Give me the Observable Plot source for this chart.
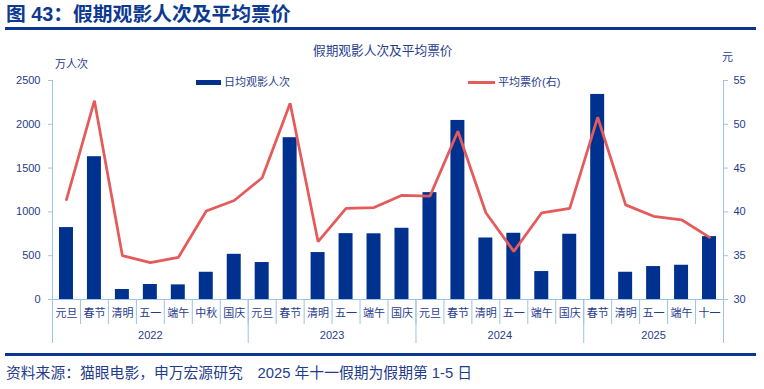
<!DOCTYPE html>
<html><head><meta charset="utf-8">
<script src="https://cdn.jsdelivr.net/npm/d3@7"></script>
<script src="https://cdn.jsdelivr.net/npm/@observablehq/plot@0.6"></script>
<style>
body{margin:0;background:#fff;}
#wrap{position:relative;width:764px;height:389px;overflow:hidden;font-family:"Liberation Sans","Noto Sans CJK SC",sans-serif;color:#1f3d8c;background:#fff;}
.abs{position:absolute;white-space:nowrap;line-height:1;}
#chart svg{display:block;}
</style></head><body>
<div id="wrap">
  <div id="chart" class="abs" style="left:0;top:0;"></div>
  <div class="abs" style="left:6px;top:5px;font-size:19.8px;font-weight:bold;color:#0d3990;">图 43：假期观影人次及平均票价</div>
  <div class="abs" style="left:5px;top:27px;width:751px;height:3px;background:#0a3593;"></div>
  <div class="abs" style="left:313px;top:44.5px;font-size:12.7px;">假期观影人次及平均票价</div>
  <div class="abs" style="left:55px;top:58.5px;font-size:11px;">万人次</div>
  <div class="abs" style="left:722px;top:52px;font-size:11px;">元</div>
  <div class="abs" style="left:196px;top:80px;width:25px;height:5px;background:#00318f;"></div>
  <div class="abs" style="left:224px;top:76.5px;font-size:11px;">日均观影人次</div>
  <div class="abs" style="left:468px;top:81px;width:27px;height:2.5px;background:#e55a5a;"></div>
  <div class="abs" style="left:498px;top:76.5px;font-size:11px;">平均票价(右)</div>
  <div class="abs" style="left:5px;top:353px;width:751px;height:3px;background:#0a3593;"></div>
  <div class="abs" style="left:6px;top:366px;font-size:14.8px;">资料来源：猫眼电影，申万宏源研究　2025 年十一假期为假期第 1-5 日</div>
</div>
<script>
// ---- data ----
const years = ["2022", "2023", "2024", "2025"];
const holidays2022 = ["元旦", "春节", "清明", "五一", "端午", "中秋", "国庆"];
const holidays2023 = ["元旦", "春节", "清明", "五一", "端午", "国庆"];
const holidays2024 = ["元旦", "春节", "清明", "五一", "端午", "国庆"];
const holidays2025 = ["春节", "清明", "五一", "端午", "十一"];
// 日均观影人次（万人次）
const dailyAdmissions = [821, 1630, 114, 171, 167, 311, 516,
                         422, 1847, 536, 752, 750, 813,
                         1220, 2044, 702, 756, 319, 745,
                         2341, 311, 376, 391, 718];
// 平均票价（元，右轴）
const avgPrice = [41.4, 52.7, 35.0, 34.2, 34.8, 40.1, 41.3,
                  43.9, 52.4, 36.6, 40.4, 40.5, 41.9,
                  41.8, 49.2, 39.9, 35.5, 39.9, 40.4,
                  50.8, 40.8, 39.5, 39.1, 37.1];
const leftTicks = [0, 500, 1000, 1500, 2000, 2500];
const rightTicks = [30, 35, 40, 45, 50, 55];

// ---- build table ----
const groups = [holidays2022, holidays2023, holidays2024, holidays2025];
const rows = [];
const groupInfo = [];
let idx = 0;
groups.forEach((g, gi) => {
  const start = idx;
  g.forEach(h => { rows.push({i: idx, cat: h, v: dailyAdmissions[idx], p: avgPrice[idx]}); idx++; });
  groupInfo.push({year: years[gi], start, end: idx, mid: (start + idx) / 2});
});
const n = rows.length;
const rMin = rightTicks[0], rMax = rightTicks[rightTicks.length - 1];
const lMax = leftTicks[leftTicks.length - 1];
const toLeft = p => (p - rMin) / (rMax - rMin) * lMax;
const fromLeft = y => String(Math.round((y / lMax * (rMax - rMin) + rMin) * 100) / 100);

const barColor = "#00318f", lineColor = "#e55a5a", axisColor = "#9dc3e6", textColor = "#1f3d8c";
const boundaries = d3.range(0, n + 1);
const groupBounds = [0, ...groupInfo.map(g => g.end)];
const centers = rows.map(r => r.i + 0.5);
const midMap = new Map(groupInfo.map(g => [g.mid, g.year]));

const chart = Plot.plot({
  width: 764, height: 389,
  marginLeft: 52, marginRight: 41, marginTop: 80, marginBottom: 90,
  style: {fontFamily: '"Liberation Sans","Noto Sans CJK SC",sans-serif', background: "transparent"},
  x: {type: "linear", domain: [0, n]},
  y: {domain: [0, lMax]},
  marks: [
    Plot.rect(rows, {x1: d => d.i + 0.25, x2: d => d.i + 0.75, y1: 0, y2: "v", fill: barColor}),
    Plot.ruleY([0], {stroke: axisColor}),
    Plot.ruleX([0, n], {stroke: axisColor}),
    Plot.line(rows, {x: d => d.i + 0.5, y: d => toLeft(d.p), stroke: lineColor, strokeWidth: 2.75, strokeLinejoin: "miter"}),
    Plot.axisY(leftTicks, {anchor: "left", tickSize: 4, tickPadding: 8, tickFormat: d => String(d), stroke: axisColor, fill: textColor, fontSize: 11, label: null}),
    Plot.axisY(rightTicks.map(toLeft), {anchor: "right", tickSize: 4, tickPadding: 6, tickFormat: fromLeft, stroke: axisColor, fill: textColor, fontSize: 11, label: null}),
    Plot.axisX(boundaries, {anchor: "bottom", tickSize: 25, tickFormat: () => "", stroke: axisColor, label: null}),
    Plot.axisX(groupBounds, {anchor: "bottom", tickSize: 44, tickFormat: () => "", stroke: axisColor, label: null}),
    Plot.axisX(centers, {anchor: "bottom", tickSize: 0, tickPadding: 10, tickFormat: d => rows[Math.floor(d)].cat, fill: textColor, fontSize: 11, label: null}),
    Plot.axisX(groupInfo.map(g => g.mid), {anchor: "bottom", tickSize: 0, tickPadding: 32, tickFormat: d => midMap.get(d), fill: textColor, fontSize: 11, label: null})
  ]
});
document.getElementById("chart").appendChild(chart);
</script>
</body></html>
